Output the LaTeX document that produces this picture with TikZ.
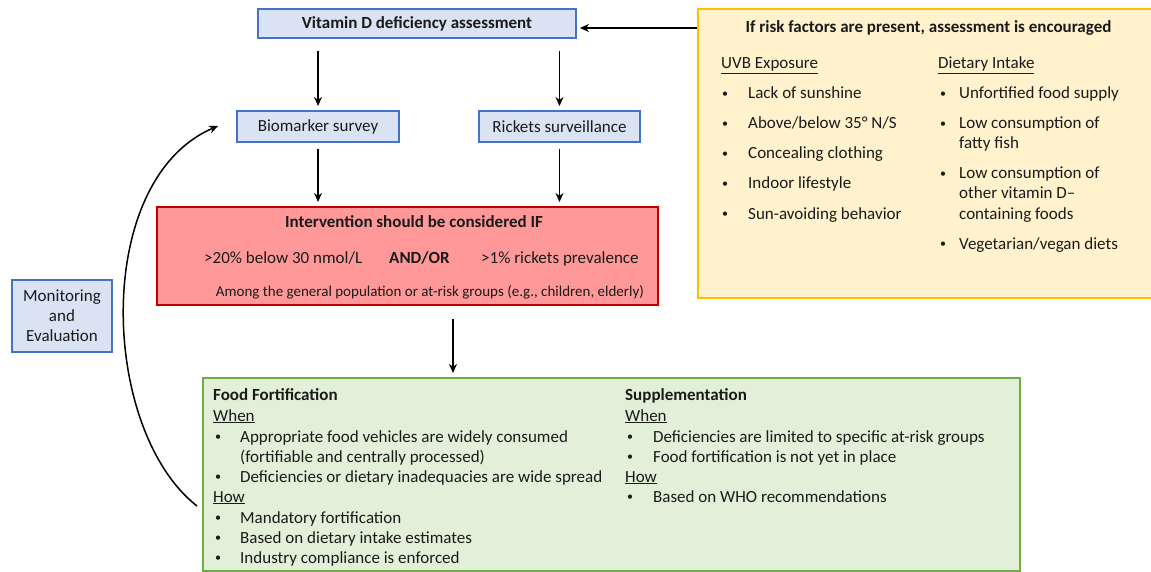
\documentclass[tikz,border=0pt]{standalone}
\usepackage{fontspec}
\setmainfont{Carlito}
\usetikzlibrary{arrows.meta}
\definecolor{bfill}{HTML}{DAE3F3}
\definecolor{bdraw}{HTML}{4472C4}
\definecolor{rfill}{HTML}{FF9999}
\definecolor{rdraw}{HTML}{C00000}
\definecolor{yfill}{HTML}{FFF2CC}
\definecolor{ydraw}{HTML}{FFC000}
\definecolor{gfill}{HTML}{E2F0D9}
\definecolor{gdraw}{HTML}{70AD47}
\definecolor{txt}{HTML}{1A1A1A}
\newcommand{\bul}{\raisebox{1.5pt}{\fontsize{12}{12}\selectfont •}}
\begin{document}
\begin{tikzpicture}[x=1pt,y=-1pt,
 every node/.style={font=\fontsize{17}{20}\selectfont, text=txt},
 bbox/.style={draw=bdraw, fill=bfill, line width=2pt, inner sep=0pt, align=center},
 panel/.style={line width=2pt, inner sep=0pt},
 t/.style={anchor=base west, inner sep=0pt},
 tc/.style={anchor=base, inner sep=0pt},
 arr/.style={-{Stealth[length=9pt,width=8pt]}, line width=1.5pt, black},
]
\clip (0,0) rectangle (1151,572);
\fill[white] (0,0) rectangle (1151,572);

% boxes
\node[bbox, minimum width=318pt, minimum height=29pt] (vit) at (417,23.5) {\textbf{Vitamin D deficiency assessment}};
\node[bbox, minimum width=162pt, minimum height=31pt] (bio) at (318,126.5) {Biomarker survey};
\node[bbox, minimum width=161pt, minimum height=31pt] (ric) at (559.5,126.5) {Rickets surveillance};
\node[panel, draw=rdraw, fill=rfill, minimum width=501pt, minimum height=98pt] (red) at (407.5,256) {};
\node[panel, draw=ydraw, fill=yfill, minimum width=470pt, minimum height=289pt] (yel) at (933,153.5) {};
\node[panel, draw=gdraw, fill=gfill, minimum width=817pt, minimum height=193pt] (grn) at (611.5,474.5) {};
\node[bbox, minimum width=100pt, minimum height=72pt] (mon) at (62,316) {Monitoring\\and\\Evaluation};

% red box text
\node[tc] (rt) at (414,228) {\textbf{Intervention should be considered IF}};
\node[t] (r1) at (204,263) {>20\% below 30 nmol/L};
\node[t] (r2) at (389,263) {\textbf{AND/OR}};
\node[t] (r3) at (481,263) {>1\% rickets prevalence};
\node[tc, font=\fontsize{15}{18}\selectfont] (r4) at (430,296) {Among the general population or at-risk groups (e.g., children, elderly)};

% yellow box text
\node[tc] (yt) at (928.5,33) {\textbf{If risk factors are present, assessment is encouraged}};
\node[t] (yh1) at (721,69) {\underline{UVB Exposure}};
\node[t] (yh2) at (938,69) {\underline{Dietary Intake}};
\foreach \y/\s [count=\i] in {99/{Lack of sunshine}, 129/{Above/below 35° N/S}, 159/{Concealing clothing}, 189/{Indoor lifestyle}, 219/{Sun-avoiding behavior}}{
  \node[t] (yb\i) at (722,\y) {\bul};
  \node[t] (yl\i) at (748,\y) {\s};
}
\foreach \y in {99,129,179,249}{ \node[t] at (940,\y) {\bul}; }
\node[t] (yr1) at (959,99) {Unfortified food supply};
\node[t] (yr2) at (959,129) {Low consumption of};
\node[t] (yr3) at (959,149) {fatty fish};
\node[t] (yr4) at (959,179) {Low consumption of};
\node[t] (yr5) at (959,199) {other vitamin D–};
\node[t] (yr6) at (959,219) {containing foods};
\node[t] (yr7) at (959,249) {Vegetarian/vegan diets};

% green box text
\node[t] (g1) at (213,400) {\textbf{Food Fortification}};
\node[t] (g2) at (213,421) {\underline{When}};
\node[t] at (215,442) {\bul};
\node[t] (g3) at (240,442) {Appropriate food vehicles are widely consumed};
\node[t] (g4) at (240,462) {(fortifiable and centrally processed)};
\node[t] at (215,482) {\bul};
\node[t] (g5) at (240,482) {Deficiencies or dietary inadequacies are wide spread};
\node[t] (g6) at (213,502) {\underline{How}};
\foreach \y/\s in {523/{Mandatory fortification}, 543/{Based on dietary intake estimates}, 563/{Industry compliance is enforced}}{
  \node[t] at (215,\y) {\bul};
  \node[t] at (240,\y) {\s};
}
\node[t] (s1) at (625,400) {\textbf{Supplementation}};
\node[t] (s2) at (625,421) {\underline{When}};
\node[t] at (627,442) {\bul};
\node[t] (s3) at (653,442) {Deficiencies are limited to specific at-risk groups};
\node[t] at (627,462) {\bul};
\node[t] (s4) at (653,462) {Food fortification is not yet in place};
\node[t] (s5) at (625,482) {\underline{How}};
\node[t] at (627,502) {\bul};
\node[t] (s6) at (653,502) {Based on WHO recommendations};

% connectors
\coordinate (ay) at (0,28);
\coordinate (dx) at (453,0);
\draw[arr, shorten >=3pt] (yel.west |- ay) -- (vit.east |- ay);
\draw[arr, shorten <=12pt, shorten >=4pt] (vit.south -| bio) -- (bio.north);
\draw[arr, shorten <=12pt, shorten >=4pt] (vit.south -| ric) -- (ric.north);
\draw[arr, shorten <=6pt, shorten >=4pt] (bio.south) -- (red.north -| bio);
\draw[arr, shorten <=6pt, shorten >=4pt] (ric.south) -- (red.north -| ric);
\draw[arr, shorten <=13pt, shorten >=4pt] (red.south -| dx) -- (grn.north -| dx);
\coordinate (cs) at (197,506);
\coordinate (ce) at (218,126);
\draw[arr] (cs) .. controls (100,430) and (92,180) .. (ce);
\end{tikzpicture}
\end{document}
